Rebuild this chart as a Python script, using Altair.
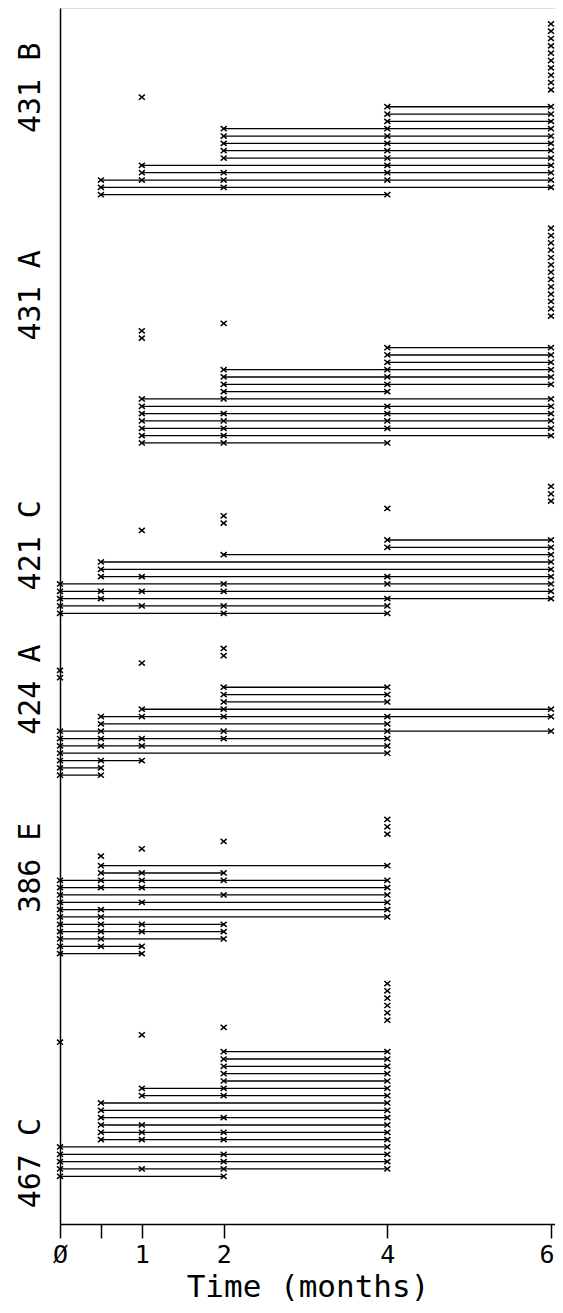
import altair as alt
import pandas as pd

# ---------------- data ----------------
GROUPS = ["431 B", "431 A", "421 C", "424 A", "386 E", "467 C"]

# each row (top -> bottom): start time, end time, intermediate observation marks
G431B_START = [4, 4, 4, 2, 2, 2, 2, 2, 1, 1, 0.5, 0.5, 0.5]
G431B_END = [6, 6, 6, 6, 6, 6, 6, 6, 6, 6, 6, 6, 4]
G431B_MARKS = [[], [], [], [4], [4], [4], [4], [4], [4], [2, 4], [1, 2, 4], [2], []]
G431B_LONE_T = [6, 1]
G431B_LONE_N = [10, 1]

G431A_START = [4, 4, 4, 2, 2, 2, 2, 1, 1, 1, 1, 1, 1, 1]
G431A_END = [6, 6, 6, 6, 6, 6, 4, 6, 6, 6, 6, 6, 6, 4]
G431A_MARKS = [[], [], [], [4], [4], [4], [], [2], [4], [2, 4], [2, 4], [2, 4], [2], [2]]
G431A_LONE_T = [6, 2, 1]
G431A_LONE_N = [13, 1, 2]

G421C_START = [4, 4, 2, 0.5, 0.5, 0.5, 0, 0, 0, 0, 0]
G421C_END = [6, 6, 6, 6, 6, 6, 6, 6, 6, 4, 4]
G421C_MARKS = [[], [], [], [], [], [1, 4], [2, 4], [0.5, 1, 2], [0.5, 4], [1, 2], [2]]
G421C_LONE_T = [6, 4, 2, 1]
G421C_LONE_N = [3, 1, 2, 1]

G424A_START = [2, 2, 2, 1, 0.5, 0.5, 0, 0, 0, 0, 0, 0, 0]
G424A_END = [4, 4, 4, 6, 6, 4, 6, 4, 4, 4, 1, 0.5, 0.5]
G424A_MARKS = [[], [], [], [2], [1, 2, 4], [], [0.5, 2, 4], [0.5, 1, 2], [0.5, 1], [], [0.5], [], []]
G424A_LONE_T = [2, 1, 0]
G424A_LONE_N = [2, 1, 2]

G386E_START = [0.5, 0.5, 0, 0, 0, 0, 0, 0, 0, 0, 0, 0, 0]
G386E_END = [4, 2, 4, 4, 4, 4, 4, 4, 2, 2, 2, 1, 1]
G386E_MARKS = [[], [1], [0.5, 1, 2], [0.5, 1], [2], [1], [0.5], [0.5], [0.5, 1], [0.5, 1], [0.5], [0.5], []]
G386E_LONE_T = [4, 2, 1, 0.5]
G386E_LONE_N = [3, 1, 1, 1]

G467C_START = [2, 2, 2, 2, 2, 1, 1, 0.5, 0.5, 0.5, 0.5, 0.5, 0.5, 0, 0, 0, 0, 0]
G467C_END = [4, 4, 4, 4, 4, 4, 4, 4, 4, 4, 4, 4, 4, 4, 4, 4, 4, 2]
G467C_MARKS = [[], [], [], [], [], [2], [2], [], [], [2], [1], [1, 2], [1, 2], [], [2], [2], [1, 2], []]
G467C_LONE_T = [4, 2, 1, 0]
G467C_LONE_N = [6, 1, 1, 1]

TICK_VALUES = [0, 0.5, 1, 2, 4, 6]
TICK_LABELS = ["Ø", "", "1", "2", "4", "6"]

# ---------------- layout (row slots) ----------------
FIRST_ROW = [13.47, 46.34, 72.58, 92.67, 117.01, 142.39]
LABEL_SLOT = [10.9, 39.2, 73.3, 93.0, 117.3, 157.6]
LONE_GAP = 1.3
Y_MAX = 165.9
X_MAX = 6.049

spec = [
    (G431B_START, G431B_END, G431B_MARKS, G431B_LONE_T, G431B_LONE_N),
    (G431A_START, G431A_END, G431A_MARKS, G431A_LONE_T, G431A_LONE_N),
    (G421C_START, G421C_END, G421C_MARKS, G421C_LONE_T, G421C_LONE_N),
    (G424A_START, G424A_END, G424A_MARKS, G424A_LONE_T, G424A_LONE_N),
    (G386E_START, G386E_END, G386E_MARKS, G386E_LONE_T, G386E_LONE_N),
    (G467C_START, G467C_END, G467C_MARKS, G467C_LONE_T, G467C_LONE_N),
]

segs, marks, labels = [], [], []
for g, (st, en, mk, lt, ln), first, lab in zip(GROUPS, spec, FIRST_ROW, LABEL_SLOT):
    for i, (s, e, m) in enumerate(zip(st, en, mk)):
        u = first + i
        segs.append(dict(group=g, u=u, start=s, end=e))
        for t in [s, *m, e]:
            marks.append(dict(group=g, u=u, t=t))
    lone = [t for t, n in zip(lt, ln) for _ in range(n)]
    base = first - LONE_GAP
    for k, t in enumerate(reversed(lone)):
        marks.append(dict(group=g, u=base - k, t=t))
    labels.append(dict(group=g, u=lab))

seg_df = pd.DataFrame(segs)
mark_df = pd.DataFrame(marks)
lab_df = pd.DataFrame(labels)

label_expr = " : ".join(
    [f"datum.value == {v} ? '{l}'" for v, l in zip(TICK_VALUES, TICK_LABELS)] + ["datum.label"]
)
last_tick = TICK_VALUES[-1]

FONT = "DejaVu Sans Mono"
xs = alt.Scale(domain=[0, X_MAX], nice=False, zero=False)
ys = alt.Scale(domain=[0, Y_MAX], nice=False, zero=False, reverse=True)
x_axis = alt.Axis(
    values=TICK_VALUES, labelExpr=label_expr, title="Time (months)", grid=False,
    tickSize=14, tickWidth=1.5, tickColor="black", domainColor="black", domainWidth=1.5,
    labelFont=FONT, labelFontSize=25, labelColor="black", labelPadding=4,
    labelFlush=False, labelOverlap=False, labelAngle=0,
    labelAlign={"condition": {"test": f"datum.value == {last_tick}", "value": "right"},
                "value": "center"},
    labelOffset={"condition": {"test": f"datum.value == {last_tick}", "value": 3},
                 "value": 0},
    titleFont=FONT, titleFontSize=31, titleFontWeight="normal", titleColor="black",
    titlePadding=5.5,
)
y_axis = alt.Axis(labels=False, ticks=False, grid=False, title=None,
                  domainColor="black", domainWidth=1.5)

rules = alt.Chart(seg_df).mark_rule(color="black", strokeWidth=1.3).encode(
    x=alt.X("start:Q", scale=xs, axis=x_axis),
    x2="end:Q",
    y=alt.Y("u:Q", scale=ys, axis=y_axis),
)

XPATH = "M-1,-0.85L1,0.85M-1,0.85L1,-0.85"
points = alt.Chart(mark_df).mark_point(
    shape=XPATH, filled=False, stroke="black", strokeWidth=1.5, size=36, opacity=1
).encode(
    x=alt.X("t:Q", scale=xs, axis=x_axis),
    y=alt.Y("u:Q", scale=ys, axis=y_axis),
)

texts = alt.Chart(lab_df).mark_text(
    font=FONT, fontSize=30, angle=270, align="center", baseline="middle", color="black"
).encode(
    x=alt.value(-29),
    y=alt.Y("u:Q", scale=ys, axis=y_axis),
    text="group:N",
)

chart = alt.layer(rules, points, texts).properties(
    width=495, height=1216,
    autosize=alt.AutoSizeParams(type="none"),
    padding={"left": 52, "top": 0, "right": 0, "bottom": 81},
).configure_view(strokeWidth=0).configure(background="white")

chart.save("out.html", embed_options={"renderer": "svg", "actions": False})
